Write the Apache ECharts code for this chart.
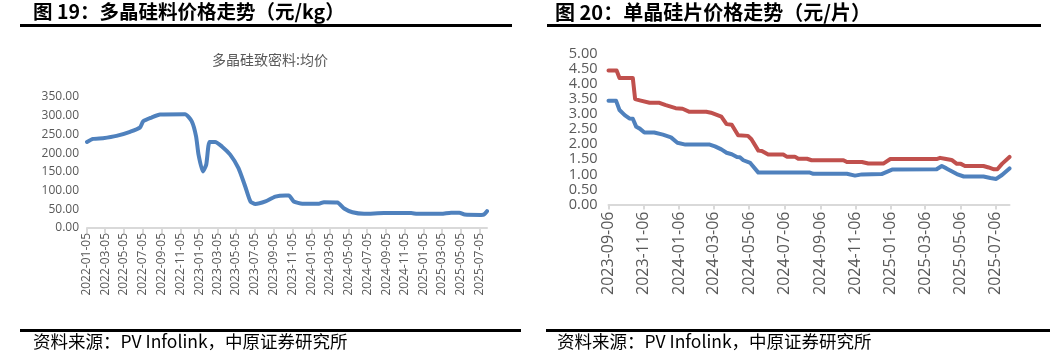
<!DOCTYPE html>
<html><head><meta charset="utf-8">
<script src="https://cdn.jsdelivr.net/npm/echarts@6/dist/echarts.min.js"></script>
<style>html,body{margin:0;padding:0;background:#fff}#c{width:1053px;height:360px}</style>
</head><body><div id="c"></div>
<script>
// ---- Left chart: polysilicon dense material average price (元/kg)
const polyDates = ['2022-01-05','2022-01-25','2022-02-26','2022-04-11','2022-05-25','2022-06-26','2022-07-07','2022-08-03','2022-08-31','2022-11-20','2022-12-12','2022-12-26','2023-01-03','2023-01-17','2023-01-28','2023-02-08','2023-02-26','2023-03-20','2023-04-16','2023-05-13','2023-06-04','2023-06-21','2023-07-07','2023-08-09','2023-09-10','2023-10-13','2023-10-24','2023-11-09','2023-12-07','2024-01-30','2024-02-15','2024-03-30','2024-04-21','2024-05-18','2024-06-25','2024-08-29','2024-11-25','2024-12-15','2025-03-03','2025-04-04','2025-05-01','2025-05-18','2025-07-11','2025-07-20','2025-07-30'];
const polyValues = [230,238,240,246,257,268,285,295,303,304,285,245,196,151,169,230,230,218,196,160,111,71,64,71,84,87,87,71,65,65,69,68,52,42,38,40,40,38,38,41,41,36,35,36,45];
const polyTickDates = ['2022-01-05','2022-03-05','2022-05-05','2022-07-05','2022-09-05','2022-11-05','2023-01-05','2023-03-05','2023-05-05','2023-07-05','2023-09-05','2023-11-05','2024-01-05','2024-03-05','2024-05-05','2024-07-05','2024-09-05','2024-11-05','2025-01-05','2025-03-05','2025-05-05','2025-07-05'];

// ---- Right chart: monocrystalline wafer prices (元/片)
const waferRedDates = ['2023-09-06','2023-09-20','2023-09-25','2023-10-18','2023-10-22','2023-10-30','2023-11-16','2023-12-03','2023-12-14','2023-12-31','2024-01-12','2024-01-24','2024-02-22','2024-03-01','2024-03-19','2024-03-28','2024-04-06','2024-04-17','2024-05-04','2024-05-10','2024-05-22','2024-05-28','2024-06-08','2024-07-04','2024-07-10','2024-07-24','2024-07-30','2024-08-14','2024-08-22','2024-10-16','2024-10-22','2024-11-17','2024-11-28','2024-12-24','2025-01-05','2025-03-26','2025-04-01','2025-04-09','2025-04-21','2025-04-30','2025-05-07','2025-05-14','2025-06-15','2025-06-24','2025-07-03','2025-07-09','2025-07-17','2025-07-30'];
const waferRedValues = [4.45,4.45,4.2,4.2,3.5,3.46,3.38,3.38,3.3,3.2,3.18,3.08,3.08,3.05,2.92,2.67,2.65,2.3,2.28,2.17,1.79,1.78,1.66,1.66,1.59,1.59,1.52,1.52,1.47,1.47,1.41,1.41,1.36,1.36,1.51,1.51,1.55,1.52,1.48,1.35,1.35,1.28,1.28,1.23,1.17,1.17,1.35,1.58];
const waferBlueDates = ['2023-09-06','2023-09-19','2023-09-25','2023-10-04','2023-10-12','2023-10-18','2023-10-24','2023-10-30','2023-11-07','2023-11-24','2023-12-09','2023-12-23','2024-01-03','2024-01-17','2024-02-28','2024-03-08','2024-03-19','2024-03-28','2024-04-06','2024-04-15','2024-04-20','2024-04-26','2024-05-08','2024-05-22','2024-08-19','2024-08-25','2024-10-22','2024-11-05','2024-11-17','2024-12-21','2025-01-08','2025-03-26','2025-04-04','2025-04-12','2025-04-30','2025-05-12','2025-06-15','2025-06-27','2025-07-07','2025-07-17','2025-07-30'];
const waferBlueValues = [3.45,3.45,3.14,2.97,2.86,2.85,2.58,2.52,2.39,2.39,2.32,2.23,2.05,1.99,1.99,1.93,1.83,1.72,1.67,1.58,1.57,1.47,1.38,1.06,1.06,1.02,1.02,0.96,1.0,1.01,1.16,1.17,1.28,1.2,1.01,0.93,0.93,0.88,0.85,0.98,1.2];
const waferTickDates = ['2023-09-06','2023-11-06','2024-01-06','2024-03-06','2024-05-06','2024-07-06','2024-09-06','2024-11-06','2025-01-06','2025-03-06','2025-05-06','2025-07-06'];

// dates -> day numbers (UTC, timezone-independent)
const DAY = 86400000;
const ts = s => { const p = s.split('-').map(Number); return Date.UTC(p[0], p[1]-1, p[2]) / DAY; };
const fmt = v => { const d = new Date(Math.round(v) * DAY); return d.getUTCFullYear() + '-' + String(d.getUTCMonth()+1).padStart(2,'0') + '-' + String(d.getUTCDate()).padStart(2,'0'); };
const pairs = (ds, vs) => ds.map((d, i) => [ts(d), vs[i]]);

const LBL = '#595959', AX = '#d9d9d9', FONT = '"Open Sans", sans-serif', CJK = '"Noto Sans CJK SC", sans-serif';

function xAxis(grid, min, max, ticks, fs, margin) {
  const cv = ticks.map(ts);
  return {
    type: 'value', gridIndex: grid, min: ts(min), max: ts(max),
    axisLine: { lineStyle: { color: AX, width: 2 } },
    axisTick: { show: true, customValues: cv, length: 5, lineStyle: { color: AX, width: 2 } },
    axisLabel: { customValues: cv, formatter: v => fmt(v), rotate: 90, fontSize: fs, color: LBL, margin: margin, fontFamily: FONT, hideOverlap: false, showMinLabel: true, showMaxLabel: true },
    splitLine: { show: false }
  };
}
function yAxis(grid, max, interval, fs, margin) {
  return {
    type: 'value', gridIndex: grid, min: 0, max: max, interval: interval,
    axisLine: { show: false }, axisTick: { show: false }, splitLine: { show: false },
    axisLabel: { formatter: v => v.toFixed(2), fontSize: fs, color: LBL, margin: margin, fontFamily: FONT }
  };
}
function line(xi, data, color, smooth) {
  return { type: 'line', xAxisIndex: xi, yAxisIndex: xi, data: data, showSymbol: false, symbol: 'none', smooth: smooth,
    lineStyle: { color: color, width: 4, cap: 'round', join: 'round' }, itemStyle: { color: color }, animation: false };
}

const chart = echarts.init(document.getElementById('c'), null, { renderer: 'canvas' });
chart.setOption({
  animation: false,
  backgroundColor: '#fff',
  grid: [
    { left: 87, right: 566, top: 97, bottom: 132 },
    { left: 608.5, right: 43.5, top: 54, bottom: 155.5 }
  ],
  xAxis: [
    xAxis(0, '2022-01-05', '2025-07-30', polyTickDates, 12, 5),
    xAxis(1, '2023-09-06', '2025-07-30', waferTickDates, 16, 7)
  ],
  yAxis: [
    yAxis(0, 350, 50, 12, 8),
    yAxis(1, 5, 0.5, 14.5, 11)
  ],
  series: [
    line(0, pairs(polyDates, polyValues), '#4F81BD', 0.2),
    line(1, pairs(waferRedDates, waferRedValues), '#C0504D', false),
    line(1, pairs(waferBlueDates, waferBlueValues), '#4F81BD', false)
  ],
  graphic: [
    { type: 'text', left: 33, top: 2, style: { text: '图 19：多晶硅料价格走势（元/kg）', font: 'bold 19.5px ' + CJK, fill: '#000' } },
    { type: 'text', left: 555, top: 2, style: { text: '图 20：单晶硅片价格走势（元/片）', font: 'bold 20px ' + CJK, fill: '#000' } },
    { type: 'rect', shape: { x: 20, y: 24, width: 492, height: 3 }, style: { fill: '#000' } },
    { type: 'rect', shape: { x: 547, y: 24, width: 494, height: 3 }, style: { fill: '#000' } },
    { type: 'text', x: 270, y: 60, style: { text: '多晶硅致密料:均价', font: '14px ' + CJK, fill: LBL, align: 'center', verticalAlign: 'middle' } },
    { type: 'rect', shape: { x: 20, y: 329, width: 501, height: 3 }, style: { fill: '#000' } },
    { type: 'rect', shape: { x: 546, y: 329, width: 504, height: 3 }, style: { fill: '#000' } },
    { type: 'text', left: 33, top: 333, style: { text: '资料来源：PV Infolink，中原证券研究所', font: '17.5px ' + CJK, fill: '#000' } },
    { type: 'text', left: 557, top: 333, style: { text: '资料来源：PV Infolink，中原证券研究所', font: '17.5px ' + CJK, fill: '#000' } }
  ]
});
</script></body></html>
